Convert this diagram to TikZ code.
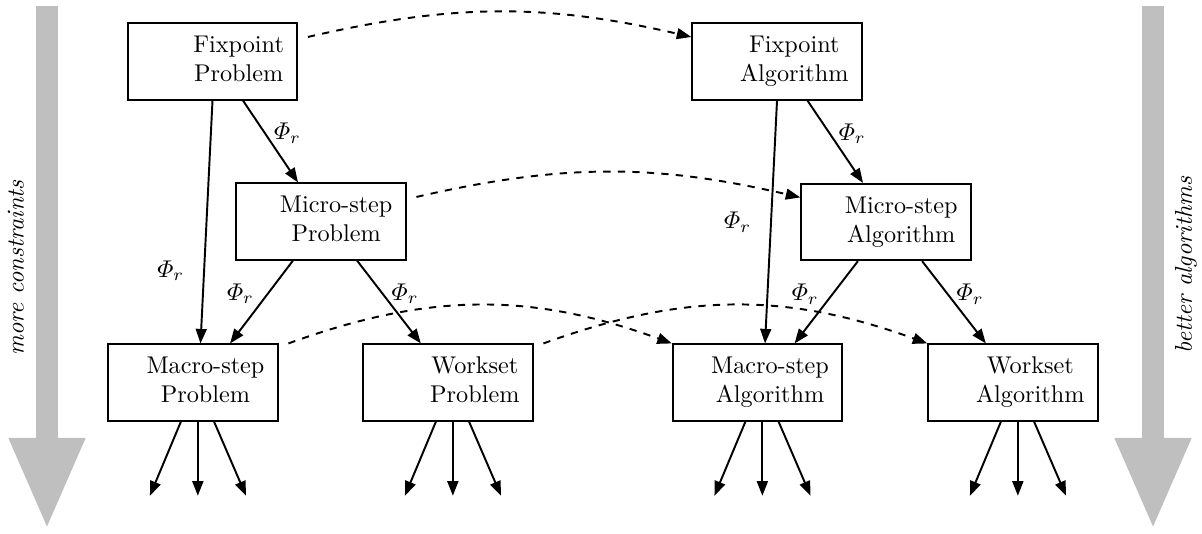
\documentclass[tikz,border=0pt]{standalone}
\usepackage{amsmath}
\usetikzlibrary{arrows.meta,positioning}

\newcommand{\twolines}[2]{\begin{tabular}{@{}c@{}}#1\\#2\end{tabular}}

\tikzset{
  box/.style={rectangle, draw=black, thick, minimum width=70pt, minimum height=31.5pt, text width=59pt, inner xsep=5.5pt, align=right},
  refine/.style={-{Triangle[length=6pt,width=4.5pt]}, thick},
  port/.style={-{Triangle[length=6pt,width=4.5pt]}, thick, dashed},
  trend/.style={draw=gray!50, line width=9pt, -{Triangle[length=38pt,width=29pt]}},
}

\begin{document}
\begin{tikzpicture}
\useasboundingbox (0,0) rectangle (17.445,-7.736);

% grey side arrows
\coordinate(lt) at (0.682,-0.087);
\coordinate(lb) at (0.682,-7.69);
\coordinate(rt) at (16.734,-0.087);
\coordinate(rb) at (16.734,-7.69);
\draw[trend](lt) -- (lb);
\draw[trend](rt) -- (rb);
\node[rotate=90](mc) at (0.23,-3.89) {\itshape more constraints};
\node[rotate=90](ba) at (17.21,-3.85) {\itshape better algorithms};

% problems
\node[box](fp) at (3.084,-0.893) {\twolines{Fixpoint}{Problem}};
\node[box](mp) at (4.659,-3.215) {\twolines{Micro-step}{Problem}};
\node[box](macp) at (2.801,-5.552) {\twolines{Macro-step}{Problem}};
\node[box](wp) at (6.502,-5.552) {\twolines{Workset}{Problem}};

% algorithms
\node[box](fa) at (11.277,-0.893) {\twolines{Fixpoint}{Algorithm}};
\node[box](ma) at (12.859,-3.222) {\twolines{Micro-step}{Algorithm}};
\node[box](maca) at (10.994,-5.552) {\twolines{Macro-step}{Algorithm}};
\node[box](wa) at (14.702,-5.552) {\twolines{Workset}{Algorithm}};

\draw [refine]([xshift=12.6pt]fp.south) to node[pos=0.4,right] {$\varPhi_r$} ([xshift=-9.5pt]mp.north);
\draw [refine](fp.south) to node[pos=0.7,left=4.5pt] {$\varPhi_r$} ([xshift=3.1pt]macp.north);
\draw [refine]([xshift=-11.6pt]mp.south) to node[pos=0.4,left=2pt] {$\varPhi_r$} ([xshift=15.3pt]macp.north);
\draw [refine]([xshift=14.9pt]mp.south) to node[pos=0.4,right] {$\varPhi_r$} ([xshift=-11.2pt]wp.north);

\draw [refine]([xshift=12.6pt]fa.south) to node[pos=0.4,right] {$\varPhi_r$} ([xshift=-9.5pt]ma.north);
\draw [refine](fa.south) to node[pos=0.5,left=4.5pt] {$\varPhi_r$} ([xshift=3.1pt]maca.north);
\draw [refine]([xshift=-11.6pt]ma.south) to node[pos=0.4,left=2pt] {$\varPhi_r$} ([xshift=15.3pt]maca.north);
\draw [refine]([xshift=14.9pt]ma.south) to node[pos=0.4,right] {$\varPhi_r$} ([xshift=-11.2pt]wa.north);

\draw [port]([shift={(4pt,-6pt)}]fp.north east) to [bend left=13] ([yshift=-6pt]fa.north west);
\draw [port]([shift={(4pt,-6pt)}]mp.north east) to [bend left=13] ([yshift=-6pt]ma.north west);
\draw [port]([xshift=4pt]macp.north east) to [bend left=20] (maca.north west);
\draw [port]([xshift=4pt]wp.north east) to [bend left=20] (wa.north west);

% open ends below
\foreach \n in {macp,wp,maca,wa}
  \foreach \s/\e in {-5/-17.8, 2/2, 8.7/21.9}
    \draw [refine]([xshift=\s pt]\n.south) -- ([shift={(\e pt,-30.6pt)}]\n.south);
\end{tikzpicture}
\end{document}
